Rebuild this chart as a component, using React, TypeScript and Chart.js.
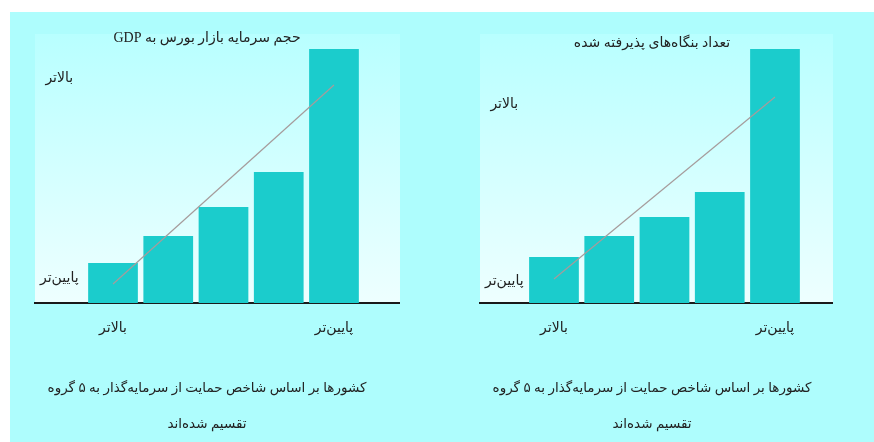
import { useEffect, useRef } from "react";
import { Chart, registerables } from "chart.js";

Chart.register(...registerables);

// ---- data ----
const categories = ["بالاتر", "", "", "", "پایین‌تر"];
const yTickLabels = ["پایین‌تر", "بالاتر"];

const leftTitle = "حجم سرمایه بازار بورس به GDP";
const rightTitle = "تعداد بنگاه‌های پذیرفته شده";
const captionLines = [
  "کشورها بر اساس شاخص حمایت از سرمایه‌گذار به ۵ گروه",
  "تقسیم شده‌اند",
];

const leftValues = [40, 67, 96, 131, 254];
const rightValues = [46, 67, 86, 111, 254];
const leftTrend = [19, 218];
const rightTrend = [24, 206];
const leftYTicks = [25, 225];
const rightYTicks = [22, 199];
const yMax = 257;

const FONT = "'Liberation Serif', 'DejaVu Sans', serif";
const TEXT = "#222222";
const BAR = "#1bcccc";
const BG = "#aefdfd";

const panelBg = {
  id: "panelBg",
  beforeDraw(chart: any) {
    const { ctx, chartArea: a } = chart;
    const top = a.top - 12;
    const g = ctx.createLinearGradient(0, top, 0, a.bottom);
    g.addColorStop(0, "rgba(184,255,255,1)");
    g.addColorStop(1, "rgba(238,255,255,1)");
    ctx.save();
    ctx.fillStyle = g;
    ctx.fillRect(a.left, top, a.right - a.left, a.bottom - top);
    ctx.restore();
  },
};

type Panel = {
  title: string;
  values: number[];
  trend: number[];
  yTicks: number[];
  xMin: number;
  xMax: number;
  axisGap: number;
  titleTop: number;
  titleBottom: number;
};

function makeConfig(p: Panel): any {
  const last = categories.length - 1;
  return {
    type: "bar",
    data: {
      datasets: [
        {
          type: "line",
          data: [
            { x: 0, y: p.trend[0] },
            { x: last, y: p.trend[1] },
          ],
          borderColor: "#a69c9c",
          borderWidth: 1.2,
          pointRadius: 0,
          order: 1,
        },
        {
          type: "bar",
          data: p.values.map((v, i) => ({ x: i, y: v })),
          backgroundColor: BAR,
          borderWidth: 0,
          barPercentage: 0.9,
          categoryPercentage: 1,
          order: 2,
        },
      ],
    },
    options: {
      responsive: false,
      maintainAspectRatio: false,
      animation: false,
      layout: { padding: 0 },
      plugins: {
        legend: { display: false },
        tooltip: { enabled: false },
        title: {
          display: true,
          text: p.title,
          color: TEXT,
          font: { family: FONT, size: 14, weight: "normal", lineHeight: 0.4 },
          padding: { top: p.titleTop, bottom: p.titleBottom },
        },
        subtitle: {
          display: true,
          position: "bottom",
          text: captionLines,
          color: TEXT,
          font: { family: FONT, size: 13.5, weight: "normal", lineHeight: 36 / 13.5 },
          padding: { top: 17, bottom: 0 },
        },
      },
      scales: {
        x: {
          type: "linear",
          min: p.xMin,
          max: p.xMax,
          offset: false,
          grid: { display: false, drawTicks: false, offset: false },
          border: { display: true, color: "#1a1a1a", width: 2 },
          afterBuildTicks: (s: any) => {
            s.ticks = categories.map((_, i) => ({ value: i }));
          },
          ticks: {
            autoSkip: false,
            maxRotation: 0,
            padding: 16.6,
            color: TEXT,
            font: { family: FONT, size: 14, lineHeight: 1.2 },
            callback: (v: any) => categories[Math.round(v)] ?? "",
          },
        },
        y: {
          type: "linear",
          min: 0,
          max: yMax,
          grid: { display: false, drawTicks: false },
          border: { display: false },
          afterBuildTicks: (s: any) => {
            s.ticks = p.yTicks.map((v) => ({ value: v }));
          },
          afterFit: (s: any) => {
            s.width = p.axisGap;
          },
          ticks: {
            mirror: true,
            crossAlign: "center",
            padding: 5,
            color: TEXT,
            font: { family: FONT, size: 14 },
            callback: (_v: any, i: number) => yTickLabels[i] ?? "",
          },
        },
      },
    },
    plugins: [panelBg],
  };
}

function ChartPanel({ panel, left, width }: { panel: Panel; left: number; width: number }) {
  const ref = useRef<HTMLCanvasElement>(null);
  useEffect(() => {
    if (!ref.current) return;
    const c = new Chart(ref.current, makeConfig(panel));
    return () => c.destroy();
  }, [panel]);
  return (
    <canvas
      ref={ref}
      dir="rtl"
      width={width}
      height={442}
      style={{ position: "absolute", left, top: 0, width, height: 442, direction: "rtl" }}
    />
  );
}

const leftPanel: Panel = {
  title: leftTitle,
  values: leftValues,
  trend: leftTrend,
  yTicks: leftYTicks,
  xMin: -1.412,
  xMax: 5.195,
  axisGap: 21,
  titleTop: 35.2,
  titleBottom: 5.2,
};

const rightPanel: Panel = {
  title: rightTitle,
  values: rightValues,
  trend: rightTrend,
  yTicks: rightYTicks,
  xMin: -1.339,
  xMax: 5.05,
  axisGap: 9,
  titleTop: 40.2,
  titleBottom: 0.2,
};

export default function App() {
  return (
    <div
      style={{
        position: "absolute",
        left: 0,
        top: 0,
        width: 874,
        height: 442,
        background: "#ffffff",
        overflow: "hidden",
      }}
    >
      <div
        style={{ position: "absolute", left: 10, top: 12, right: 0, bottom: 0, background: BG }}
      />
      <ChartPanel panel={leftPanel} left={14} width={386} />
      <ChartPanel panel={rightPanel} left={471} width={362} />
    </div>
  );
}
